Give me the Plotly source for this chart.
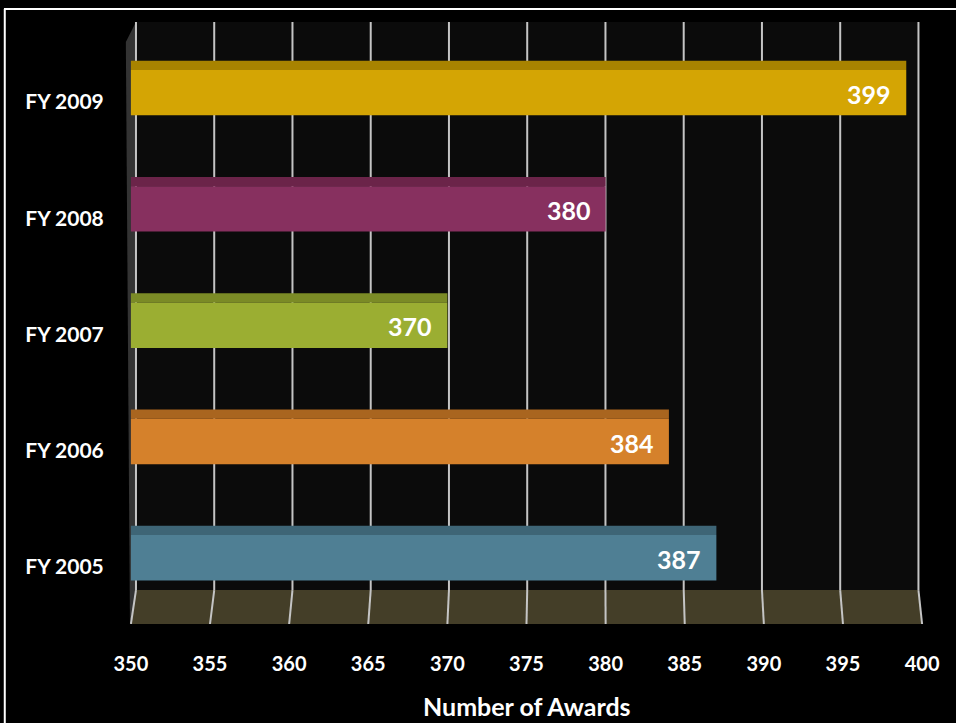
import plotly.graph_objects as go

categories = ["FY 2005", "FY 2006", "FY 2007", "FY 2008", "FY 2009"]
awards = [387, 384, 370, 380, 399]
front_colors = ["#4f7f94", "#d5812b", "#9bae32", "#87305f", "#d4a504"]
top_colors = ["#3e6576", "#a9651f", "#7b8b26", "#6b2449", "#a88300"]
tick_vals = [350, 355, 360, 365, 370, 375, 380, 385, 390, 395, 400]

BASE = 350
idx = list(range(len(categories)))
FONT = "Lato"

fig = go.Figure()
# top (3D) faces
fig.add_trace(go.Bar(
    y=idx, x=[v - BASE for v in awards], base=BASE, orientation="h",
    marker=dict(color=top_colors, line=dict(width=0)),
    width=0.08, offset=0.275, hoverinfo="skip", showlegend=False))
# front faces
fig.add_trace(go.Bar(
    y=idx, x=[v - BASE for v in awards], base=BASE, orientation="h",
    marker=dict(color=front_colors, line=dict(width=0)),
    width=0.39, offset=-0.115, showlegend=False,
    customdata=awards, hovertemplate="%{customdata}<extra></extra>"))

Y0, YW, Y1 = -0.49, -0.198, 4.688


def wall_x(v):
    return 350.32 + (v - 350) * 0.989


shapes = []
# back wall
shapes.append(dict(type="rect", xref="x", yref="y", layer="below",
                   x0=wall_x(350), x1=wall_x(400), y0=YW, y1=Y1,
                   fillcolor="#0b0b0b", line=dict(width=0)))
# side wall
shapes.append(dict(type="path", xref="x", yref="y", layer="below",
                   path=f"M 349.68 4.516 L 350.32 {Y1} L 350.38 {YW} L 349.94 {Y0} Z",
                   fillcolor="#333333", line=dict(width=0)))
# floor
shapes.append(dict(type="path", xref="x", yref="y", layer="between",
                   path=f"M {wall_x(350)} {YW} L {wall_x(400)} {YW} L 400 {Y0} L 350 {Y0} Z",
                   fillcolor="#443e28", line=dict(width=0)))
for v in tick_vals:
    shapes.append(dict(type="line", xref="x", yref="y", layer="below",
                       x0=wall_x(v), x1=wall_x(v), y0=YW, y1=Y1,
                       line=dict(color="#c4c4c4", width=2)))
    shapes.append(dict(type="line", xref="x", yref="y", layer="between",
                       x0=wall_x(v), x1=v, y0=YW, y1=Y0,
                       line=dict(color="#c4c4c4", width=2)))
# frame (top and left edges only; others lie outside the picture)
shapes.append(dict(type="line", xref="paper", yref="paper",
                   x0=-0.1475, x1=1.1, y0=1.0216, y1=1.0216,
                   line=dict(color="white", width=2)))
shapes.append(dict(type="line", xref="paper", yref="paper",
                   x0=-0.1465, x1=-0.1465, y0=-0.3, y1=1.0216,
                   line=dict(color="white", width=2)))

annotations = [dict(x=v, y=i + 0.07, xref="x", yref="y", text=str(v), showarrow=False,
                    xanchor="right", yanchor="middle", xshift=-13,
                    font=dict(family=FONT, size=25, color="white", weight="bold"))
               for i, v in zip(idx, awards)]
annotations.append(dict(x=0.5, y=-0.137, xref="paper", yref="paper", text="Number of Awards",
                        showarrow=False, xanchor="center", yanchor="middle",
                        font=dict(family=FONT, size=25, color="white", weight="bold")))

fig.update_layout(
    width=956, height=723,
    margin=dict(l=123, r=26, t=22, b=99),
    paper_bgcolor="#000000", plot_bgcolor="#000000",
    barmode="overlay",
    shapes=shapes, annotations=annotations,
    xaxis=dict(range=[349.5, 400.5], tickvals=tick_vals, showgrid=False, zeroline=False,
               showline=False, ticks="outside", ticklen=22, tickcolor="rgba(0,0,0,0)",
               tickfont=dict(family=FONT, size=20, color="white", weight="bold")),
    yaxis=dict(range=[Y0, Y1], tickvals=idx, ticktext=categories, showgrid=False,
               zeroline=False, showline=False, ticks="outside", ticklen=14,
               tickcolor="rgba(0,0,0,0)",
               tickfont=dict(family=FONT, size=21, color="white", weight="bold")),
)

fig.write_html(
    "out.html",
    config={"displayModeBar": False},
    post_script="document.body.style.margin='0';document.body.style.background='#000';"
                "document.documentElement.style.background='#000';"
                "document.body.style.overflow='hidden';",
)
